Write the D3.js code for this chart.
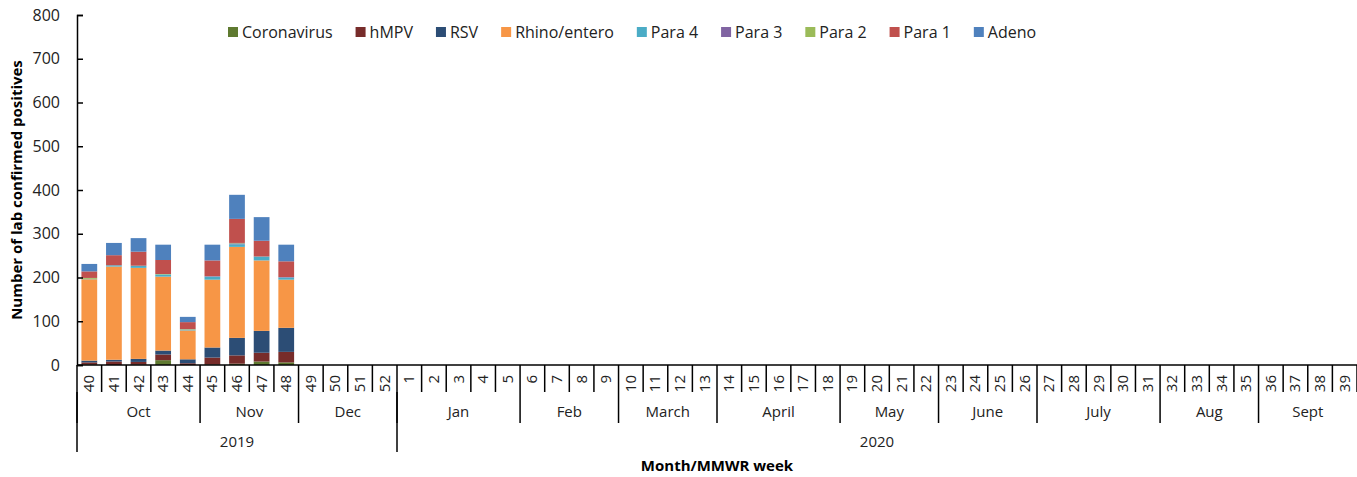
<!DOCTYPE html>
<html>
<head>
<meta charset="utf-8">
<script src="https://cdn.jsdelivr.net/npm/d3@7"></script>
<style>
  body { margin: 0; background: #fff; }
  text { font-family: "Open Sans", sans-serif; fill: #222; }
  .axisTitle { font-weight: bold; font-size: 15px; fill: #000; }
</style>
</head>
<body>
<div id="chart"></div>
<script>

// categories
var weeks = ["40","41","42","43","44","45","46","47","48","49","50","51","52",
    "1","2","3","4","5","6","7","8","9","10","11","12","13","14","15","16","17","18",
    "19","20","21","22","23","24","25","26","27","28","29","30","31","32","33","34","35",
    "36","37","38","39"];
var monthNames = ["Oct","Nov","Dec","Jan","Feb","March","April","May","June","July","Aug","Sept"];
var monthWeeks = [5, 4, 4, 5, 4, 4, 5, 4, 4, 5, 4, 4];
var yearNames = ["2019", "2020"];
var yearWeeks = [13, 39];
var yTicks = [0, 100, 200, 300, 400, 500, 600, 700, 800];

// series, weeks 40..48 (later weeks no data yet)
var seriesNames = ["Coronavirus","hMPV","RSV","Rhino/entero","Para 4","Para 3","Para 2","Para 1","Adeno"];
var seriesColors = ["#5f7a30","#772c2a","#2c4d75","#f79646","#4bacc6","#8064a2","#9bbb59","#c0504d","#4f81bd"];
var coronavirus = [1, 0, 1, 11, 0, 1, 3, 8, 6];
var hmpv        = [5, 8, 6, 13, 4, 16, 19, 20, 24];
var rsv         = [4, 4, 7, 9, 9, 23, 40, 50, 55];
var rhino       = [186, 213, 208, 169, 66, 155, 208, 161, 110];
var para4       = [1, 3, 5, 5, 2, 7, 6, 9, 5];
var para3       = [0, 0, 0, 0, 0, 1, 2, 0, 1];
var para2       = [2, 0, 0, 1, 1, 0, 1, 0, 0];
var para1       = [15, 23, 32, 32, 16, 36, 55, 36, 36];
var adeno       = [17, 28, 31, 35, 12, 36, 55, 54, 38];
var seriesValues = [coronavirus, hmpv, rsv, rhino, para4, para3, para2, para1, adeno];

var W = 1357, H = 477;
var margin = { left: 77, right: 1357, top: 15, bottom: 365 };

var svg = d3.select("#chart").append("svg")
    .attr("width", W)
    .attr("height", H);

var x = d3.scaleBand().domain(weeks).range([margin.left, margin.right]).paddingInner(0.36).paddingOuter(0.18);
var bx = d3.scaleLinear().domain([0, weeks.length]).range([margin.left, margin.right]);
var y = d3.scaleLinear().domain([0, 800]).range([margin.bottom, margin.top]);

// stacked data
var table = weeks.slice(0, coronavirus.length).map(function (w, i) {
    var row = { week: w };
    seriesNames.forEach(function (s, j) { row[s] = seriesValues[j][i]; });
    return row;
});
var stack = d3.stack().keys(seriesNames)(table);

svg.append("g").selectAll("g")
    .data(stack)
    .enter().append("g")
    .attr("fill", function (d, i) { return seriesColors[i]; })
    .selectAll("rect")
    .data(function (d) { return d; })
    .enter().append("rect")
    .attr("x", function (d) { return x(d.data.week); })
    .attr("width", x.bandwidth())
    .attr("y", function (d) { return y(d[1]); })
    .attr("height", function (d) { return y(d[0]) - y(d[1]); });

// y axis
var yAxis = d3.axisLeft(y).tickValues(yTicks).tickSize(-6).tickPadding(17);
var gy = svg.append("g")
    .attr("transform", "translate(" + margin.left + ",0)")
    .call(yAxis);
gy.select(".domain").attr("stroke", "#000").attr("stroke-width", 1.5);
gy.selectAll(".tick line").attr("stroke", "#000").attr("stroke-width", 1.5);
gy.selectAll(".tick text").style("font-size", "16px").style("font-family", "Open Sans").attr("fill", "#222");

svg.append("text")
    .attr("class", "axisTitle")
    .attr("transform", "translate(22," + ((margin.top + margin.bottom) / 2) + ") rotate(-90)")
    .attr("text-anchor", "middle")
    .text("Number of lab confirmed positives");

// x axis base line
svg.append("line")
    .attr("x1", margin.left).attr("x2", margin.right)
    .attr("y1", margin.bottom).attr("y2", margin.bottom)
    .attr("stroke", "#000").attr("stroke-width", 1.5);

// week boundaries
var lines = svg.append("g").attr("stroke", "#000").attr("stroke-width", 1.5);
for (var i = 0; i <= weeks.length; i++) {
    lines.append("line")
        .attr("x1", bx(i)).attr("x2", bx(i))
        .attr("y1", margin.bottom).attr("y2", 392);
}

// week labels
svg.append("g").selectAll("text")
    .data(weeks)
    .enter().append("text")
    .attr("transform", function (d) {
        return "translate(" + (x(d) + x.bandwidth() / 2 + 5) + ",375) rotate(-90)";
    })
    .attr("text-anchor", "end")
    .style("font-size", "15px")
    .text(function (d) { return d; });

// month groups
var pos = 0;
monthNames.forEach(function (m, i) {
    var start = pos, end = pos + monthWeeks[i];
    lines.append("line")
        .attr("x1", bx(start)).attr("x2", bx(start))
        .attr("y1", 392).attr("y2", 423);
    svg.append("text")
        .attr("x", (bx(start) + bx(end)) / 2)
        .attr("y", 417)
        .attr("text-anchor", "middle")
        .style("font-size", "15px")
        .text(m);
    pos = end;
});

// year groups
pos = 0;
yearNames.forEach(function (yr, i) {
    var start = pos, end = pos + yearWeeks[i];
    lines.append("line")
        .attr("x1", bx(start)).attr("x2", bx(start))
        .attr("y1", 392).attr("y2", 452);
    svg.append("text")
        .attr("x", (bx(start) + bx(end)) / 2)
        .attr("y", 447)
        .attr("text-anchor", "middle")
        .style("font-size", "15px")
        .text(yr);
    pos = end;
});

svg.append("text")
    .attr("class", "axisTitle")
    .attr("x", (margin.left + margin.right) / 2)
    .attr("y", 471)
    .attr("text-anchor", "middle")
    .text("Month/MMWR week");

// legend
var lx = 228;
var legend = svg.append("g");
seriesNames.forEach(function (s, i) {
    legend.append("rect")
        .attr("x", lx).attr("y", 27)
        .attr("width", 10).attr("height", 10)
        .attr("fill", seriesColors[i]);
    var t = legend.append("text")
        .attr("x", lx + 14).attr("y", 38)
        .style("font-size", "16px")
        .text(s);
    lx += 14 + t.node().getComputedTextLength() + 23;
});

</script>
</body>
</html>
